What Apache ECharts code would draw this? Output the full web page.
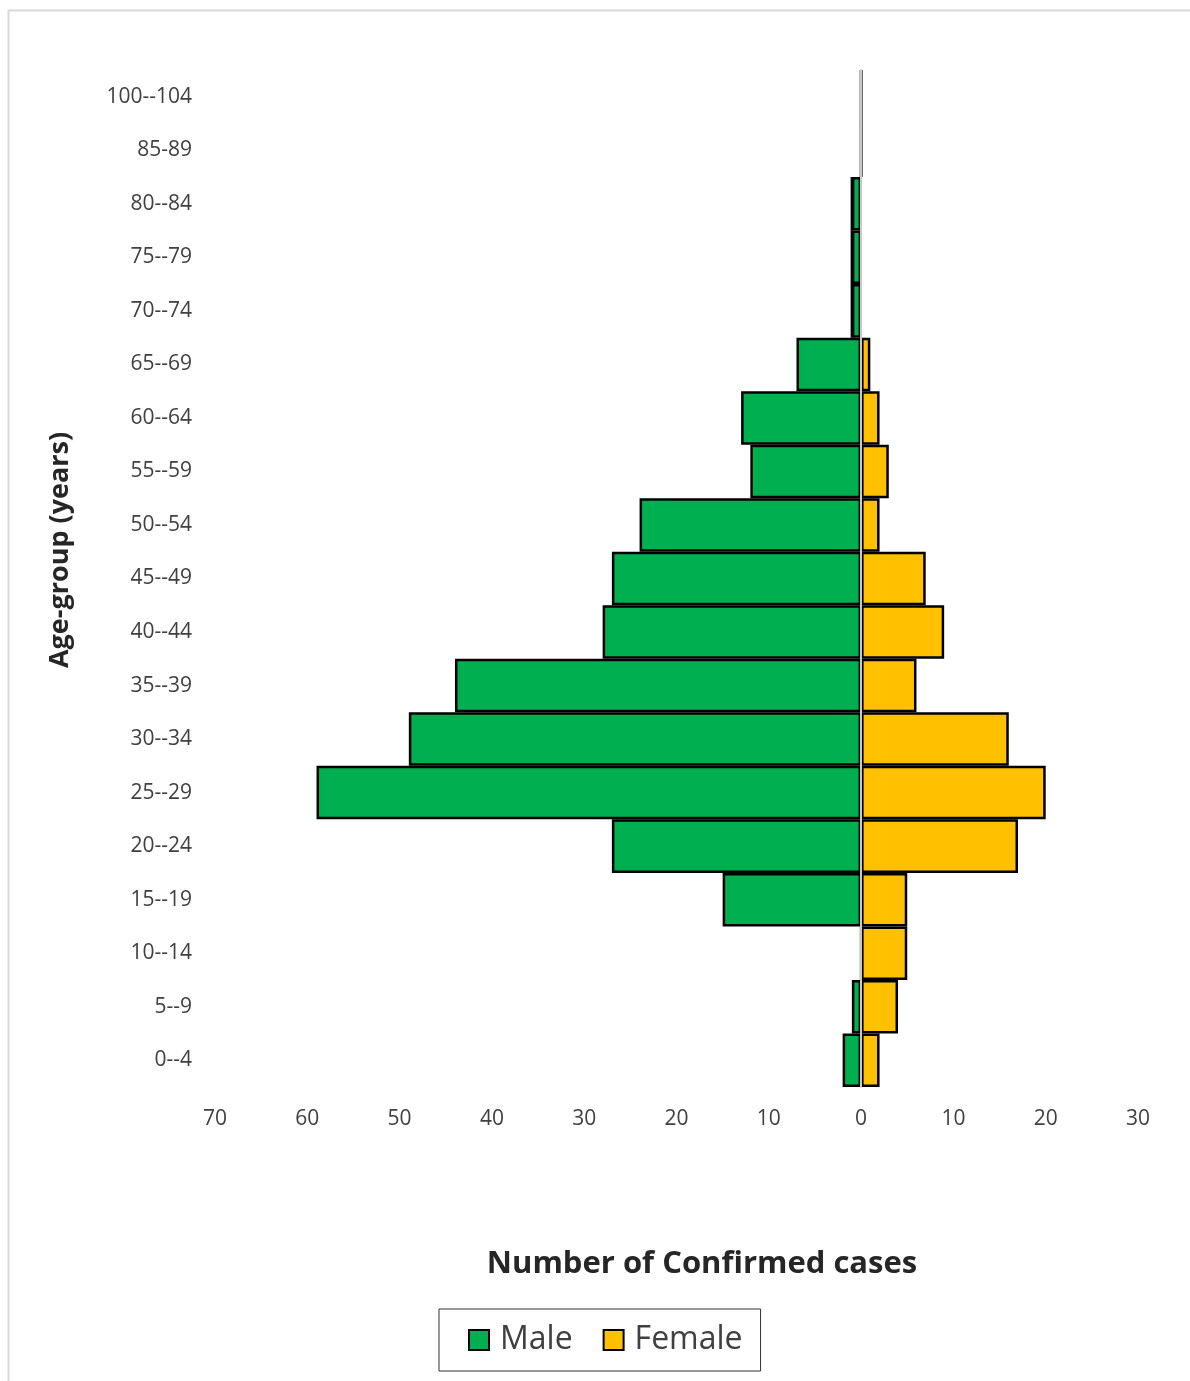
<!DOCTYPE html>
<html>
<head>
<meta charset="utf-8">
<script src="https://cdn.jsdelivr.net/npm/echarts@6/dist/echarts.min.js"></script>
<style>
html,body{margin:0;padding:0;background:#fff;}
#chart{width:1190px;height:1381px;}
</style>
</head>
<body>
<div id="chart"></div>
<script>
const ageGroups = ['0--4','5--9','10--14','15--19','20--24','25--29','30--34','35--39','40--44','45--49','50--54','55--59','60--64','65--69','70--74','75--79','80--84','85-89','100--104'];
const maleCases = [2,1,0,15,27,59,49,44,28,27,24,12,13,7,1,1,1,0,0];
const femaleCases = [2,4,5,5,17,20,16,6,9,7,2,3,2,1,0,0,0,0,0];
const xTicks = [-70,30,10];

const chart = echarts.init(document.getElementById('chart'));
const font = '"Open Sans", "Noto Sans", sans-serif';
chart.setOption({
  animation: false,
  backgroundColor: '#fff',
  textStyle: {fontFamily: font},
  grid: {left: 215, right: 52, top: 70, bottom: 294, containLabel: false},
  legend: {
    left: 439, top: 1309,
    padding: [15, 18, 15, 29],
    borderColor: '#333', borderWidth: 1,
    icon: 'rect',
    itemWidth: 20, itemHeight: 20, itemGap: 30,
    itemStyle: {borderColor: '#000', borderWidth: 2},
    textStyle: {fontSize: 32, color: '#404040', fontFamily: font, padding: [0, 0, 0, 6]},
    data: ['Male', 'Female']
  },
  xAxis: {
    type: 'value', min: xTicks[0], max: xTicks[1], interval: xTicks[2],
    axisLine: {show: false}, axisTick: {show: false}, splitLine: {show: false},
    axisLabel: {formatter: v => Math.abs(v), fontSize: 21, color: '#404040', margin: 22}
  },
  yAxis: {
    type: 'category', data: ageGroups, z: 5,
    axisLine: {onZero: true, lineStyle: {color: '#c8c8c8', width: 2}},
    axisTick: {show: false},
    axisLabel: {fontSize: 21, color: '#404040', margin: 23, padding: [2, 0, 0, 0]}
  },
  series: [
    {
      name: 'Male', type: 'bar', stack: 'total', barCategoryGap: 0,
      data: maleCases.map(v => -v),
      itemStyle: {color: '#00b050', borderColor: '#000', borderWidth: 2.5}
    },
    {
      name: 'Female', type: 'bar', stack: 'total', barCategoryGap: 0,
      data: femaleCases,
      itemStyle: {color: '#ffc000', borderColor: '#000', borderWidth: 2.5}
    }
  ],
  graphic: [
    {type: 'rect', shape: {x: 8.5, y: 10.5, width: 1300, height: 1500}, style: {fill: 'none', stroke: '#d9d9d9', lineWidth: 2}, silent: true},
    {type: 'text', x: 60, y: 550, rotation: Math.PI / 2, style: {text: 'Age-group (years)', font: 'bold 27px ' + font, fill: '#262626', textAlign: 'center', textVerticalAlign: 'middle'}},
    {type: 'text', x: 702, y: 1264, style: {text: 'Number of Confirmed cases', font: 'bold 31px ' + font, fill: '#262626', textAlign: 'center', textVerticalAlign: 'middle'}}
  ]
});
</script>
</body>
</html>
